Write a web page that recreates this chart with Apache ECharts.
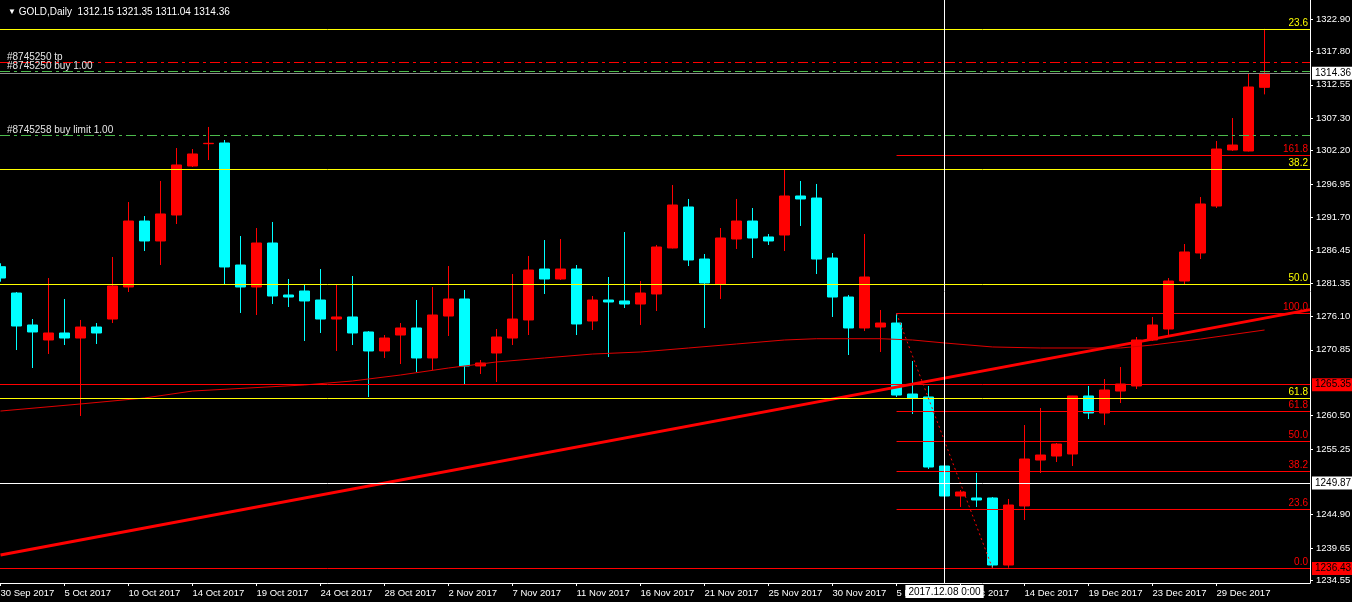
<!DOCTYPE html>
<html>
<head>
<meta charset="utf-8">
<script src="https://cdn.jsdelivr.net/npm/echarts@6/dist/echarts.min.js"></script>
<style>
  html, body { margin: 0; padding: 0; background: #000; }
  #chart { width: 1352px; height: 602px; }
</style>
</head>
<body>
<div id="chart"></div>
<script>
// ---------- DATA ----------
const symbolName = 'GOLD,Daily';
const dates = [
  '30 Sep 2017','2 Oct 2017','3 Oct 2017','4 Oct 2017','5 Oct 2017','6 Oct 2017','7 Oct 2017','9 Oct 2017',
  '10 Oct 2017','11 Oct 2017','12 Oct 2017','13 Oct 2017','14 Oct 2017','16 Oct 2017','17 Oct 2017','18 Oct 2017',
  '19 Oct 2017','20 Oct 2017','21 Oct 2017','23 Oct 2017','24 Oct 2017','25 Oct 2017','26 Oct 2017','27 Oct 2017',
  '28 Oct 2017','30 Oct 2017','31 Oct 2017','1 Nov 2017','2 Nov 2017','3 Nov 2017','4 Nov 2017','6 Nov 2017',
  '7 Nov 2017','8 Nov 2017','9 Nov 2017','10 Nov 2017','11 Nov 2017','13 Nov 2017','14 Nov 2017','15 Nov 2017',
  '16 Nov 2017','17 Nov 2017','18 Nov 2017','20 Nov 2017','21 Nov 2017','22 Nov 2017','23 Nov 2017','24 Nov 2017',
  '25 Nov 2017','27 Nov 2017','28 Nov 2017','29 Nov 2017','30 Nov 2017','1 Dec 2017','2 Dec 2017','4 Dec 2017',
  '5 Dec 2017','6 Dec 2017','7 Dec 2017','8 Dec 2017','9 Dec 2017','11 Dec 2017','12 Dec 2017','13 Dec 2017',
  '14 Dec 2017','15 Dec 2017','16 Dec 2017','18 Dec 2017','19 Dec 2017','20 Dec 2017','21 Dec 2017','22 Dec 2017',
  '23 Dec 2017','26 Dec 2017','27 Dec 2017','28 Dec 2017','29 Dec 2017','30 Dec 2017','2 Jan 2018','3 Jan 2018'
];
const opens = [
  1283.92,1279.78,1274.75,1272.39,1273.49,1272.70,1274.43,1275.69,1280.73,1291.11,
  1287.97,1292.06,1299.77,1303.28,1303.39,1284.19,1280.73,1287.65,1279.47,1280.10,
  1278.68,1275.69,1276.01,1273.65,1270.66,1273.17,1274.28,1269.56,1276.16,1278.84,
  1268.30,1270.34,1272.70,1275.54,1283.56,1281.99,1283.56,1275.38,1278.68,1278.53,
  1278.05,1279.63,1286.87,1293.32,1285.13,1281.20,1288.28,1291.11,1288.60,1288.91,
  1295.05,1294.73,1285.29,1279.15,1274.28,1274.43,1275.06,1263.89,1263.42,1252.56,
  1247.84,1247.53,1247.53,1236.98,1246.27,1253.50,1254.13,1254.45,1263.58,1260.90,
  1264.36,1265.15,1272.39,1274.12,1281.67,1286.08,1293.47,1302.29,1302.13,1312.15
];
const highs = [
  1284.46,1279.94,1275.69,1282.14,1278.84,1275.54,1275.06,1285.45,1294.10,1291.90,
  1297.41,1302.60,1302.44,1305.91,1303.86,1288.75,1290.01,1290.96,1281.99,1281.04,
  1283.56,1281.04,1282.46,1273.80,1273.17,1275.06,1278.68,1280.73,1284.03,1280.26,
  1269.24,1274.12,1282.77,1285.61,1288.12,1288.28,1284.19,1279.31,1282.30,1289.38,
  1281.67,1287.34,1296.78,1294.58,1285.92,1290.01,1294.58,1293.16,1289.07,1299.14,
  1297.41,1296.94,1286.08,1279.47,1289.07,1277.11,1276.56,1269.08,1265.15,1252.88,
  1248.78,1251.46,1247.68,1247.37,1259.01,1261.69,1256.18,1263.60,1265.15,1266.25,
  1268.14,1272.86,1276.01,1282.14,1287.49,1294.89,1303.70,1307.32,1314.40,1321.35
];
const lows = [
  1281.56,1270.81,1267.98,1270.19,1271.60,1260.43,1271.76,1275.06,1279.94,1286.39,
  1284.19,1290.64,1299.61,1300.71,1281.20,1276.64,1276.32,1278.05,1277.58,1272.23,
  1273.49,1270.66,1271.60,1263.42,1269.56,1268.61,1267.35,1267.67,1273.02,1265.46,
  1267.04,1265.78,1271.60,1273.17,1279.63,1281.83,1273.17,1273.96,1269.71,1277.42,
  1274.75,1276.95,1286.80,1284.03,1274.28,1278.84,1286.71,1285.29,1287.34,1286.39,
  1290.33,1282.77,1276.01,1270.03,1273.80,1270.50,1263.42,1260.74,1252.09,1247.68,
  1246.11,1246.11,1236.43,1236.55,1244.06,1251.46,1253.19,1252.56,1259.96,1259.01,
  1262.47,1264.68,1272.23,1273.17,1281.20,1285.13,1293.16,1302.13,1302.05,1311.04
];
const closes = [
  1282.14,1274.59,1273.65,1273.49,1272.70,1274.43,1273.49,1280.89,1291.11,1287.97,
  1292.22,1299.93,1301.66,1303.34,1283.88,1280.73,1287.65,1279.31,1279.15,1278.53,
  1275.69,1276.01,1273.49,1270.66,1272.70,1274.28,1269.56,1276.32,1278.84,1268.30,
  1268.77,1272.86,1275.69,1283.40,1281.99,1283.56,1274.91,1278.68,1278.37,1278.05,
  1279.78,1287.02,1293.63,1284.98,1281.36,1288.44,1291.11,1288.44,1287.97,1295.05,
  1294.58,1285.13,1279.15,1274.28,1282.30,1275.06,1263.73,1263.26,1252.40,1247.84,
  1248.47,1247.21,1236.98,1246.42,1253.66,1254.29,1256.02,1263.58,1260.90,1264.52,
  1265.46,1272.39,1274.75,1281.67,1286.24,1293.79,1302.44,1303.07,1312.20,1314.36
];
// moving average, read at selected bars
const maBars   = [0, 5, 9, 12, 19, 22, 25, 28, 31, 34, 37, 40, 43, 46, 49, 51, 55, 57, 59, 62, 65, 70, 72, 75, 79];
const maValues = [1261.21,1262.32,1263.26,1264.36,1265.31,1265.94,1266.88,1267.98,1268.93,1269.56,1270.18,1270.50,
                  1271.13,1271.76,1272.39,1272.59,1272.59,1272.39,1271.92,1271.29,1271.13,1271.13,1271.60,1272.54,1273.96];
// red trend line (ray)
const trendBars   = [0, 81.84];
const trendPrices = [1238.56, 1277.17];
// large Fibonacci (yellow)
const yFibLevels = ['23.6', '38.2', '50.0', '61.8'];
const yFibPrices = [1321.33, 1299.25, 1281.20, 1263.21];
// small Fibonacci (red), drawn from bar 56 high to bar 62 low
const rFibFrom = [56, 1276.56];
const rFibTo   = [62, 1236.43];
const rFibLevels = ['0.0', '23.6', '38.2', '50.0', '61.8', '100.0', '161.8'];
const rFibPrices = [1236.43, 1245.72, 1251.70, 1256.42, 1261.14, 1276.56, 1301.42];
// horizontal price lines with axis boxes
const hlinePrices = [1265.35, 1249.87, 1236.43];
const hlineColors = ['#ff0000', '#ffffff', '#ff0000'];
const bidPrice = 1314.36;
// order lines
const tpLabel = '#8745250 tp';
const tpPrice = 1316.06;
const buyLabels = ['#8745250 buy 1.00', '#8745258 buy limit 1.00'];
const buyPrices = [1314.64, 1304.57];
// axis ticks
const priceTicks = [1322.90, 1317.80, 1312.55, 1307.30, 1302.20, 1296.95, 1291.70, 1286.45, 1281.35,
                    1276.10, 1270.85, 1260.50, 1255.25, 1244.90, 1239.65, 1234.55];
const timeTickBars = [0,4,8,12,16,20,24,28,32,36,40,44,48,52,56,60,64,68,72,76];
const crossBar = 59;
const crossLabel = '2017.12.08 0:00';

// ---------- CHART ----------
const FONT = 'Liberation Sans';
const last = opens.length - 1;
const fmt = v => v.toFixed(2);
const X_MIN = -0.03, X_MAX = 81.84;

const candleData = opens.map((o, i) => [i, o, closes[i], lows[i], highs[i]]);

function markSeries(data, z, lineStyle, label) {
  return {
    type: 'line', data: [], z: z || 4, silent: true, animation: false,
    markLine: { symbol: ['none', 'none'], silent: true, animation: false,
                lineStyle: lineStyle, label: label, data: data }
  };
}

const fibLabel = color => ({ show: true, position: 'insideEndTop', color: color,
                             fontFamily: FONT, fontSize: 10, distance: [2, 1] });
const orderLabel = { show: true, position: 'insideStartTop', color: '#e6e6e6',
                     fontFamily: FONT, fontSize: 10, distance: [7, 0] };
const boxLabel = { show: true, position: 'end', color: '#000',
                   fontFamily: FONT, fontSize: 10, padding: [2, 3, 1, 3], distance: 2 };

const yFibMarks = yFibPrices.map((p, k) => ({ yAxis: p, label: { formatter: yFibLevels[k] } }));

const rFibMarks = rFibPrices.map((p, k) => ([
  { coord: [rFibFrom[0], p], label: { formatter: rFibLevels[k] } },
  { coord: [X_MAX, p] }
]));
const rFibDiag = [[ { coord: rFibFrom }, { coord: rFibTo } ]];

const hlineMarks = hlinePrices.map((p, k) => ({
  yAxis: p,
  lineStyle: { color: hlineColors[k] },
  label: { formatter: fmt(p), backgroundColor: hlineColors[k] }
}));
hlineMarks.push({
  yAxis: bidPrice,
  lineStyle: { color: '#8c8c8c' },
  label: { formatter: fmt(bidPrice), backgroundColor: '#ffffff' }
});

const tpMarks = [{ yAxis: tpPrice, label: { formatter: tpLabel } }];
const buyMarks = buyPrices.map((p, k) => ({ yAxis: p, label: { formatter: buyLabels[k] } }));

const crossMarks = [{ xAxis: crossBar }];

const option = {
  backgroundColor: '#000000',
  animation: false,
  title: {
    left: 3, top: 2,
    text: '{t|▼} ' + symbolName + '  ' + [opens[last], highs[last], lows[last], closes[last]].map(fmt).join(' '),
    textStyle: { color: '#ffffff', fontFamily: FONT, fontSize: 10, fontWeight: 'normal',
                 rich: { t: { fontSize: 8, color: '#ffffff' } } }
  },
  grid: { left: 0, right: 42, top: 0, bottom: 19, containLabel: false, outerBoundsMode: 'none' },
  xAxis: {
    type: 'value', min: X_MIN, max: X_MAX,
    axisLine: { show: true, onZero: false, lineStyle: { color: '#ffffff', width: 1 } },
    axisTick: { show: true, length: 3, lineStyle: { color: '#ffffff' }, customValues: timeTickBars },
    axisLabel: { show: true, customValues: timeTickBars, formatter: v => dates[Math.round(v)] || '',
                 align: 'left', margin: 5, color: '#ffffff', fontFamily: FONT, fontSize: 9.5 },
    splitLine: { show: false }
  },
  yAxis: {
    type: 'value', position: 'right', min: 1234.15, max: 1325.89,
    axisLine: { show: true, onZero: false, lineStyle: { color: '#ffffff', width: 1 } },
    axisTick: { show: true, length: 3, lineStyle: { color: '#ffffff' }, customValues: priceTicks },
    axisLabel: { show: true, customValues: priceTicks, formatter: v => fmt(v),
                 margin: 6, color: '#ffffff', fontFamily: FONT, fontSize: 9.5 },
    splitLine: { show: false }
  },
  series: [
    {
      type: 'candlestick', z: 2, clip: true,
      data: candleData,
      encode: { x: 0, y: [1, 2, 3, 4] },
      barWidth: 10,
      itemStyle: { color: '#ff0000', color0: '#00ffff', borderColor: '#ff0000', borderColor0: '#00ffff', borderWidth: 1 }
    },
    {
      type: 'line', z: 3, silent: true, showSymbol: false, clip: true,
      data: maBars.map((b, k) => [b, maValues[k]]),
      lineStyle: { color: '#e00000', width: 1 }
    },
    {
      type: 'line', z: 3, silent: true, showSymbol: false, clip: true,
      data: trendBars.map((b, k) => [b, trendPrices[k]]),
      lineStyle: { color: '#ff0000', width: 3 }
    },
    markSeries(yFibMarks, 4, { color: '#ffff00', width: 1, type: 'solid' }, fibLabel('#ffff00')),
    markSeries(rFibMarks, 4, { color: '#ff0000', width: 1, type: 'solid' }, fibLabel('#ff0000')),
    markSeries(rFibDiag, 4, { color: '#ff0000', width: 1, type: [2, 3] }, { show: false }),
    markSeries(tpMarks, 4, { color: '#ff0000', width: 1, type: [10, 4, 3, 4] }, orderLabel),
    markSeries(buyMarks, 4, { color: '#4cbb4c', width: 1, type: [10, 4, 3, 4] }, orderLabel),
    markSeries(hlineMarks, 5, { width: 1, type: 'solid' }, boxLabel),
    markSeries(crossMarks, 6, { color: '#ffffff', width: 1, type: 'solid' },
      { show: true, position: 'start', formatter: crossLabel, color: '#000', backgroundColor: '#ffffff',
        fontFamily: FONT, fontSize: 10, padding: [2, 3, 1, 3], distance: 2 })
  ]
};

const chart = echarts.init(document.getElementById('chart'), null, { renderer: 'canvas' });
chart.setOption(option);
</script>
</body>
</html>
